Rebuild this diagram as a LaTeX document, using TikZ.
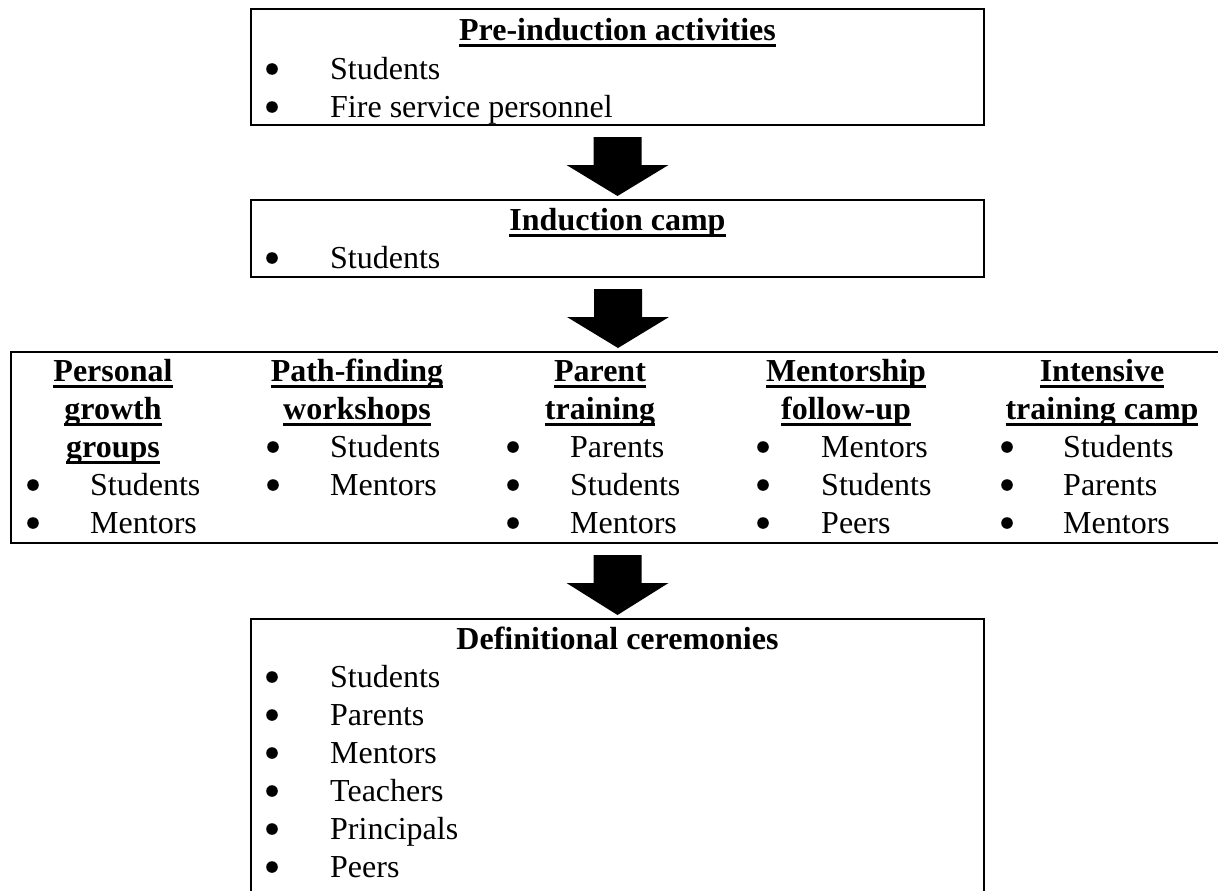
\documentclass[tikz,border=0pt]{standalone}
\usepackage{fontspec}
\setmainfont{Liberation Serif}
\usetikzlibrary{calc}
\newcommand{\ulbf}[1]{\setbox0\hbox{#1}\rlap{\vrule width\wd0 height -3.5pt depth 6.5pt}\box0}
\newcommand{\bitem}[5]{\fill (#2,#4-10) circle (5.8pt); \node[txt] (#1) at (#3,#4) {#5};}
\newcommand{\blockarrow}[2]{%
  \fill ($(#2.north |- #1.south)+(-24,11)$) -- ($(#2.north |- #1.south)+(24,11)$)
     -- ($(#2.north |- #1.south)+(24,39)$) -- ($(#2.north |- #1.south)+(51,39)$)
     -- ($(#2.north)+(0,-3)$)
     -- ($(#2.north |- #1.south)+(-51,39)$) -- ($(#2.north |- #1.south)+(-24,39)$) -- cycle;}
\tikzset{
  box/.style={draw, line width=2pt, rectangle, inner sep=0pt},
  txt/.style={anchor=base west, inner sep=0pt, font=\fontsize{32}{38}\selectfont},
  ttl/.style={anchor=base, inner sep=0pt, font=\fontsize{32}{38}\selectfont\bfseries},
}
\begin{document}
\begin{tikzpicture}[x=1pt,y=-1pt]
\useasboundingbox[fill=white] (0,0) rectangle (1218,891);
% boxes
\node[box, minimum width=733pt, minimum height=116pt] (b1) at (617.5,67) {};
\node[box, minimum width=733pt, minimum height=77pt] (b2) at (617.5,238.5) {};
\node[box, minimum width=1214pt, minimum height=191pt] (b3) at (618,447.5) {};
\node[box, minimum width=733pt, minimum height=281pt] (b4) at (617.5,759.5) {};
% arrows
\blockarrow{b1}{b2}
\blockarrow{b2}{b3}
\blockarrow{b3}{b4}
% box 1
\node[ttl] (t1) at (617.5,41) {\ulbf{Pre-induction activities}};
\bitem{t1a}{272}{330}{79}{Students}
\bitem{t1b}{272}{330}{117}{Fire service personnel}
% box 2
\node[ttl] (t2) at (617.5,230) {\ulbf{Induction camp}};
\bitem{t2a}{272}{330}{268}{Students}
% box 3, column 1
\node[ttl] (c1a) at (113,381) {\ulbf{Personal}};
\node[ttl] (c1b) at (113,419) {\ulbf{growth}};
\node[ttl] (c1c) at (113,457) {\ulbf{groups}};
\bitem{c1d}{33}{90}{495}{Students}
\bitem{c1e}{33}{90}{533}{Mentors}
% column 2
\node[ttl] (c2a) at (357,381) {\ulbf{Path-finding}};
\node[ttl] (c2b) at (357,419) {\ulbf{workshops}};
\bitem{c2c}{273}{330}{457}{Students}
\bitem{c2d}{273}{330}{495}{Mentors}
% column 3
\node[ttl] (c3a) at (600,381) {\ulbf{Parent}};
\node[ttl] (c3b) at (600,419) {\ulbf{training}};
\bitem{c3c}{513}{570}{457}{Parents}
\bitem{c3d}{513}{570}{495}{Students}
\bitem{c3e}{513}{570}{533}{Mentors}
% column 4
\node[ttl] (c4a) at (846,381) {\ulbf{Mentorship}};
\node[ttl] (c4b) at (846,419) {\ulbf{follow-up}};
\bitem{c4c}{763}{821}{457}{Mentors}
\bitem{c4d}{763}{821}{495}{Students}
\bitem{c4e}{763}{821}{533}{Peers}
% column 5
\node[ttl] (c5a) at (1102,381) {\ulbf{Intensive}};
\node[ttl] (c5b) at (1102,419) {\ulbf{training camp}};
\bitem{c5c}{1007}{1063}{457}{Students}
\bitem{c5d}{1007}{1063}{495}{Parents}
\bitem{c5e}{1007}{1063}{533}{Mentors}
% box 4
\node[ttl] (t4) at (617.5,649) {Definitional ceremonies};
\bitem{t4a}{272}{330}{687}{Students}
\bitem{t4b}{272}{330}{725}{Parents}
\bitem{t4c}{272}{330}{763}{Mentors}
\bitem{t4d}{272}{330}{801}{Teachers}
\bitem{t4e}{272}{330}{839}{Principals}
\bitem{t4f}{272}{330}{877}{Peers}
\end{tikzpicture}
\end{document}
